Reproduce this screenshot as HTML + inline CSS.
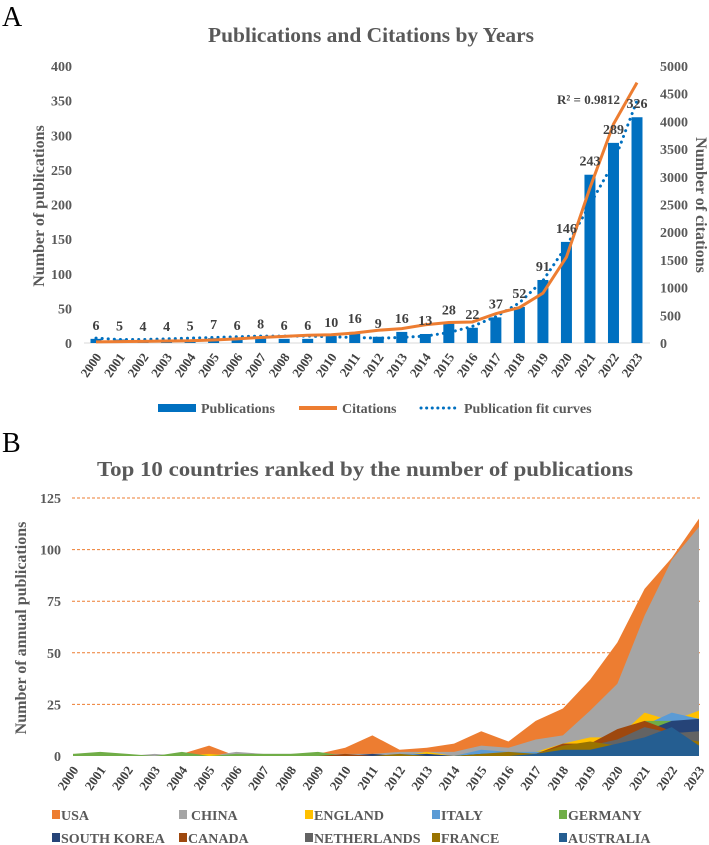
<!DOCTYPE html>
<html><head><meta charset="utf-8"><style>
body{margin:0;background:#fff;width:709px;height:845px;overflow:hidden}
svg{display:block;font-family:"Liberation Serif",serif}
</style></head><body>
<svg id="c" width="709" height="845">
<text x="2" y="26" font-size="28" fill="#000">A</text>
<text x="208" y="42" font-size="21" font-weight="bold" fill="#595959" textLength="326" lengthAdjust="spacingAndGlyphs">Publications and Citations by Years</text>
<text x="2" y="452" font-size="28" fill="#000">B</text>
<text x="97" y="476" font-size="21" font-weight="bold" fill="#595959" textLength="536" lengthAdjust="spacingAndGlyphs">Top 10 countries ranked by the number of publications</text>
<g id="ga"></g><g id="gb"></g>
<g>
<rect x="158" y="404" width="38" height="8" fill="#0070C0"/>
<text x="201" y="413" font-size="14" font-weight="bold" fill="#595959">Publications</text>
<line x1="299" x2="337" y1="408" y2="408" stroke="#ED7D31" stroke-width="4"/>
<text x="342" y="413" font-size="14" font-weight="bold" fill="#595959">Citations</text>
<line x1="421" x2="457" y1="408" y2="408" stroke="#0070C0" stroke-width="3" stroke-dasharray="0.1 5.5" stroke-linecap="round"/>
<text x="464" y="413" font-size="14" font-weight="bold" fill="#595959">Publication fit curves</text>
</g>
<g id="legb"></g>
</svg>
<script>
const years=[];for(let y=2000;y<=2023;y++)years.push(y);
const pubs=[6,5,4,4,5,7,6,8,6,6,10,16,9,16,13,28,22,37,52,91,146,243,289,326];
const cites=[20,25,30,35,40,55,75,100,120,140,150,180,230,260,330,370,380,530,640,900,1550,2800,3950,4700];
const fit=[7,5,5,6,7,8,9,10,10,10,9,8,7,8,10,15,24,38,58,90,140,200,260,350];
const leftTicks=[0,50,100,150,200,250,300,350,400];
const rightTicks=[0,500,1000,1500,2000,2500,3000,3500,4000,4500,5000];
const countries=['USA','CHINA','ENGLAND','ITALY','GERMANY','SOUTH KOREA','CANADA','NETHERLANDS','FRANCE','AUSTRALIA'];
const usa=[0,0,0,0,1,5,0,0,0,1,4,10,3,4,6,12,7,17,23,37,55,81,96,115];
const china=[0,0,0,1,0,0,2,1,1,1,1,1,2,2,2,5,4,8,10,22,35,68,95,111];
const england=[1,0,0,0,0,1,0,0,0,0,0,0,0,2,0,1,1,2,6,9,9,21,17,22];
const italy=[0,0,0,0,0,0,0,0,0,0,0,0,1,1,0,3,2,2,3,5,8,15,21,18];
const germany=[1,2,1,0,2,0,1,1,1,2,0,0,0,0,0,1,1,1,2,3,5,17,17,12];
const korea=[0,0,0,0,0,0,0,0,0,0,0,1,0,1,0,1,1,1,2,3,5,12,17,18];
const canada=[0,0,0,0,0,0,0,0,0,0,1,0,0,0,0,0,0,1,6,6,13,17,12,10];
const netherlands=[0,0,0,0,0,0,0,0,0,0,0,0,0,0,0,0,0,1,3,5,8,14,11,12];
const france=[0,0,0,0,0,0,0,0,0,0,0,0,1,0,0,1,2,1,5,7,5,8,9,7];
const australia=[0,0,0,0,0,0,0,0,0,0,0,0,0,0,0,0,0,1,3,3,6,9,14,5];
const bTicks=[0,25,50,75,100,125];
const series=[usa,china,england,italy,germany,korea,canada,netherlands,france,australia];
const colors=['#ED7D31','#A5A5A5','#FFC000','#5B9BD5','#70AD47','#264478','#9E480E','#636363','#997300','#255E91'];
const NS="http://www.w3.org/2000/svg";
function mk(p,t,a,txt){const e=document.createElementNS(NS,t);for(const k in a)e.setAttribute(k,a[k]);if(txt!==undefined)e.textContent=txt;p.appendChild(e);return e;}
// Chart A
const ga=document.getElementById('ga');
const ax0=96,axStep=(637-96)/23,ay0=343,ay1=66;
const xa=i=>ax0+i*axStep, yl=v=>ay0-(ay0-ay1)*v/400, yr=v=>ay0-(ay0-ay1)*v/5000;
let e=mk(ga,'line',{x1:84,x2:650,y1:ay0,y2:ay0,stroke:'#d9d9d9'});


leftTicks.forEach(t=>{const l=mk(ga,'text',{x:72,y:yl(t)+5,'font-size':14,'font-weight':'bold',fill:'#595959','text-anchor':'end'},t);

});
rightTicks.forEach(t=>{const l=mk(ga,'text',{x:660,y:yr(t)+5,'font-size':14,'font-weight':'bold',fill:'#595959'},t);

});
e=mk(ga,'text',{transform:'translate(44,206) rotate(-90)','font-size':16,'font-weight':'bold',fill:'#595959','text-anchor':'middle'},'Number of publications');


e=mk(ga,'text',{transform:'translate(696,205) rotate(90)','font-size':16,'font-weight':'bold',fill:'#595959','text-anchor':'middle'},'Number of citations');


pubs.forEach((v,i)=>{const b=mk(ga,'rect',{x:xa(i)-5.5,y:yl(v),width:11,height:ay0-yl(v),fill:'#0070C0'});


const xl=mk(ga,'text',{transform:`translate(${xa(i)+6},${ay0+14}) rotate(-55)`,'font-size':13,'font-weight':'bold',fill:'#404040','text-anchor':'end'},years[i]);

});
e=mk(ga,'polyline',{points:fit.map((v,i)=>xa(i)+','+yl(v)).join(' '),fill:'none',stroke:'#0070C0','stroke-width':3,'stroke-dasharray':'0.1 6','stroke-linecap':'round'});


e=mk(ga,'polyline',{points:cites.map((v,i)=>xa(i)+','+yr(v)).join(' '),fill:'none',stroke:'#ED7D31','stroke-width':3});


pubs.forEach((v,i)=>{const l=mk(ga,'text',{x:xa(i),y:yl(v)-9,'font-size':14,'font-weight':'bold',fill:'#404040','text-anchor':'middle'},v);

});
e=mk(ga,'text',{x:557,y:104,'font-size':13,'font-weight':'bold',fill:'#404040'},'R² = 0.9812');


// Chart B
const gb=document.getElementById('gb');
const bx0=73,bx1=699,by0=756,by1=498;
const bStep=(bx1-bx0)/23;
const xb=i=>bx0+i*bStep, yb=v=>by0-(by0-by1)*v/125;
bTicks.forEach(t=>{
 if(t>0){const g=mk(gb,'line',{x1:72,x2:700,y1:yb(t),y2:yb(t),stroke:'#ED7D31','stroke-dasharray':'3 2','stroke-width':1});
 
 }
 const l=mk(gb,'text',{x:61,y:yb(t)+5,'font-size':14,'font-weight':'bold',fill:'#595959','text-anchor':'end'},t);
 
 });
e=mk(gb,'text',{transform:'translate(26,628) rotate(-90)','font-size':16,'font-weight':'bold',fill:'#595959','text-anchor':'middle'},'Number of annual publications');


series.forEach((s,k)=>{
 const pts=s.map((v,i)=>xb(i)+','+yb(v)).join(' ');
 const a=mk(gb,'polygon',{points:`${xb(0)},${by0} ${pts} ${xb(23)},${by0}`,fill:colors[k]});
 
 });
years.forEach((y,i)=>{const xl=mk(gb,'text',{transform:`translate(${xb(i)+6},${by0+14}) rotate(-55)`,'font-size':13,'font-weight':'bold',fill:'#404040','text-anchor':'end'},y);

});
const lg=document.getElementById('legb');
const colX=[52,179,305,432,559];
countries.forEach((c,k)=>{const x=colX[k%5],y=k<5?820:843;
 const r=mk(lg,'rect',{x:x,y:y-10,width:8,height:9,fill:colors[k]});
 
 
 const t=mk(lg,'text',{x:x+(k===1?12:9),y:y,'font-size':14,'font-weight':'bold',fill:'#595959'},c);
 
 });
</script>
</body></html>
